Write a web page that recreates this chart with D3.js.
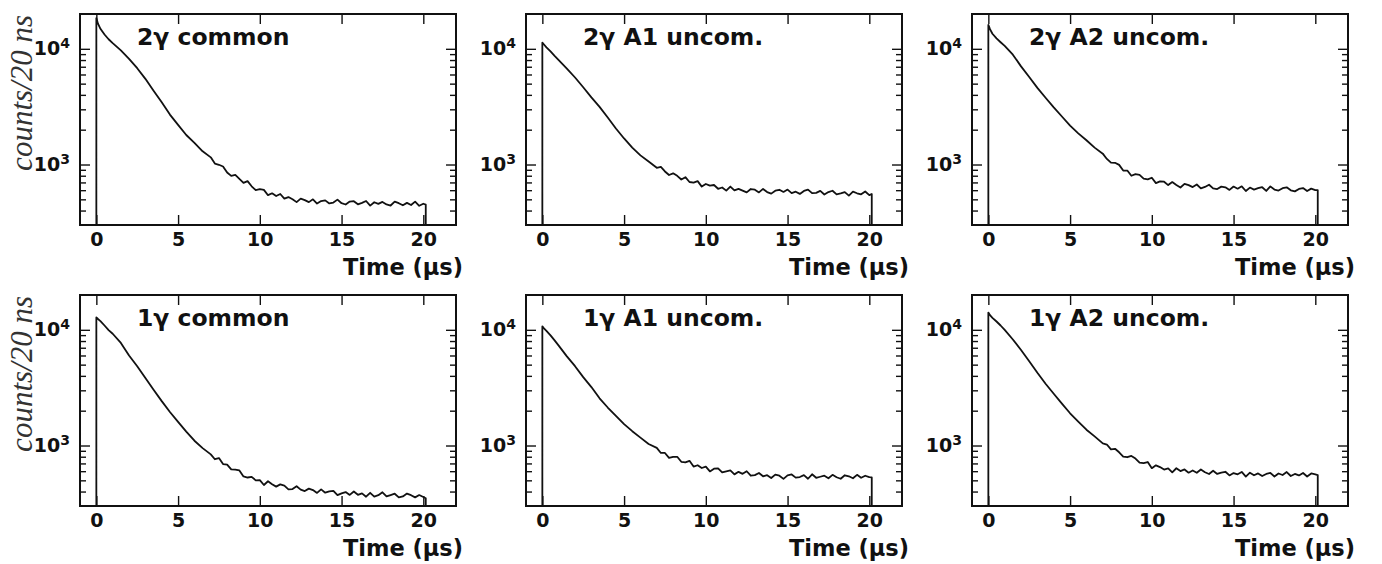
<!DOCTYPE html>
<html>
<head>
<meta charset="utf-8">
<script src="https://cdn.jsdelivr.net/npm/d3@7"></script>
<style>
  body { margin: 0; background: #fff; }
  .chart text { font-family: "DejaVu Sans", sans-serif; font-weight: bold; fill: #111; }
  .chart .ylab { font-family: "Liberation Serif", serif; font-style: italic; font-weight: normal; fill: #333; }
</style>
</head>
<body>
<div class="chart"></div>
<script>
//Time bins (μs)
var times = [0, 0.1, 0.25, 0.5, 0.75, 1, 1.5, 2, 2.5, 3, 3.5, 4, 4.5, 5, 5.5, 6, 6.5,
  7, 7.25, 7.5, 7.75, 8, 8.25, 8.5, 8.75, 9, 9.25, 9.5, 9.75, 10, 10.25, 10.5, 10.75,
  11, 11.25, 11.5, 11.75, 12, 12.25, 12.5, 12.75, 13, 13.25, 13.5, 13.75, 14, 14.25, 14.5, 14.75,
  15, 15.25, 15.5, 15.75, 16, 16.25, 16.5, 16.75, 17, 17.25, 17.5, 17.75, 18, 18.25, 18.5, 18.75,
  19, 19.25, 19.5, 19.75, 20, 20.15];

//Counts per 20 ns
var counts2gCommon = [18450, 16500, 14900, 13300, 12100, 11200, 9700, 8200, 6800, 5500, 4350, 3450, 2700, 2200, 1800, 1540, 1300,
  1153, 1019, 995, 962, 853, 797, 814, 750, 694, 719, 648, 600, 612, 603, 543, 564, 534, 556, 507, 523, 500, 473, 507, 492,
  473, 500, 460, 483, 490, 461, 469, 497, 463, 451, 478, 482, 453, 466, 484, 441, 472, 457, 475, 452, 442, 477, 463, 444,
  466, 447, 478, 440, 458, 450];
var counts2gA1 = [11300, 10900, 10300, 9500, 8700, 8000, 6750, 5650, 4650, 3800, 3150, 2550, 2050, 1680, 1400, 1200, 1060,
  936, 952, 871, 811, 839, 798, 742, 777, 706, 698, 718, 644, 679, 656, 665, 617, 633, 595, 645, 597, 616, 595, 574, 614,
  606, 574, 615, 578, 560, 594, 605, 579, 607, 566, 582, 557, 591, 607, 565, 569, 591, 550, 578, 593, 552, 562, 578, 538,
  582, 564, 552, 584, 544, 556];
var counts2gA2 = [16100, 14800, 13500, 12300, 11400, 10600, 8900, 7050, 5700, 4600, 3780, 3120, 2600, 2170, 1860, 1620, 1400,
  1241, 1117, 1037, 1035, 993, 888, 887, 800, 826, 814, 755, 743, 769, 691, 715, 710, 664, 705, 665, 633, 681, 663, 638, 672,
  623, 640, 669, 622, 614, 644, 635, 603, 645, 618, 648, 590, 632, 607, 624, 636, 591, 646, 608, 595, 624, 635, 598, 586,
  615, 626, 590, 619, 601, 600];
var counts1gCommon = [12800, 12400, 11900, 10900, 9950, 9250, 7700, 6000, 4850, 3830, 3040, 2420, 1950, 1600, 1320, 1100, 950,
  838, 761, 779, 691, 683, 621, 618, 609, 540, 529, 536, 500, 502, 456, 491, 463, 441, 461, 450, 418, 420, 445, 416, 404,
  424, 412, 389, 418, 391, 401, 406, 372, 386, 396, 374, 400, 375, 386, 361, 390, 362, 372, 394, 363, 373, 383, 356, 363,
  384, 372, 356, 373, 359, 350];
var counts1gA1 = [10700, 10300, 9800, 8950, 8100, 7300, 5900, 4850, 3900, 3200, 2560, 2130, 1800, 1530, 1330, 1170, 1030,
  953, 862, 862, 782, 798, 799, 723, 715, 737, 658, 675, 639, 657, 597, 630, 635, 586, 598, 610, 563, 592, 569, 599, 548,
  555, 579, 542, 554, 524, 560, 548, 515, 552, 562, 528, 534, 554, 516, 564, 526, 537, 548, 521, 558, 532, 516, 553, 542,
  521, 558, 526, 548, 532, 530];
var counts1gA2 = [14100, 13400, 12700, 11800, 10900, 10000, 8250, 6700, 5350, 4250, 3420, 2800, 2300, 1900, 1610, 1370, 1200,
  1044, 1020, 926, 937, 874, 803, 792, 813, 772, 711, 703, 720, 637, 674, 651, 620, 634, 586, 636, 601, 621, 582, 608, 581,
  620, 587, 567, 605, 568, 584, 593, 551, 578, 564, 591, 539, 582, 553, 574, 545, 568, 579, 540, 573, 556, 590, 545, 568,
  551, 579, 540, 573, 562, 555];

var panelTitles = ["2γ common", "2γ A1 uncom.", "2γ A2 uncom.", "1γ common", "1γ A1 uncom.", "1γ A2 uncom."];
var panelCounts = [counts2gCommon, counts2gA1, counts2gA2, counts1gCommon, counts1gA1, counts1gA2];

var xTicks = [0, 5, 10, 15, 20];
var yMajorTicks = [1000, 10000];
var yMinorTicks = [400, 500, 600, 700, 800, 900, 2000, 3000, 4000, 5000, 6000, 7000, 8000, 9000];
var xDomain = [-1, 22];
var yDomain = [300, 20000];

//Layout
var svgWidth = 1382;
var svgHeight = 564;
var colLeft = [80, 526, 972];
var rowTop = [14, 295];
var panelWidth = 376;
var panelHeight = 211;

var svg = d3.select(".chart")
    .append("svg")
    .attr("width", svgWidth)
    .attr("height", svgHeight);

var xScale = d3.scaleLinear().domain(xDomain).range([0, panelWidth]);
var yScale = d3.scaleLog().domain(yDomain).range([panelHeight, 0]);

var line = d3.line()
    .x(d => xScale(d.t))
    .y(d => yScale(d.v));

panelCounts.forEach(function(counts, i) {
    var col = i % 3, row = Math.floor(i / 3);
    var g = svg.append("g")
        .attr("transform", `translate(${colLeft[col]}, ${rowTop[row]})`);

    g.append("clipPath").attr("id", "clip" + i)
      .append("rect").attr("width", panelWidth).attr("height", panelHeight);

    //Histogram trace, closed down to the floor at both ends
    var pts = times.map((t, j) => ({t: t, v: counts[j]}));
    pts.unshift({t: times[0], v: yDomain[0]});
    pts.push({t: times[times.length - 1], v: yDomain[0]});

    g.append("path")
        .datum(pts)
        .attr("clip-path", `url(#clip${i})`)
        .attr("fill", "none")
        .attr("stroke", "#111")
        .attr("stroke-width", 1.8)
        .attr("stroke-linejoin", "round")
        .attr("d", line);

    //Axes, ticks pointing inwards
    var bottom = g.append("g")
        .attr("transform", `translate(0, ${panelHeight})`)
        .call(d3.axisBottom(xScale).tickValues(xTicks).tickSize(-10).tickPadding(8));
    bottom.selectAll("text").attr("font-size", 19);

    g.append("g")
        .call(d3.axisTop(xScale).tickValues(xTicks).tickSize(-10).tickFormat(""));

    var left = g.append("g")
        .call(d3.axisLeft(yScale).tickValues(yMajorTicks).tickSize(-10).tickPadding(10));
    left.selectAll(".tick text").each(function(d) {
        var el = d3.select(this).attr("font-size", 19).text(null);
        el.append("tspan").text("10");
        el.append("tspan").attr("dy", "-0.5em").attr("font-size", 14).text(Math.round(Math.log10(d)));
    });
    g.append("g")
        .call(d3.axisLeft(yScale).tickValues(yMinorTicks).tickSize(-6).tickFormat(""));

    g.append("g")
        .attr("transform", `translate(${panelWidth}, 0)`)
        .call(d3.axisRight(yScale).tickValues(yMajorTicks).tickSize(-10).tickFormat(""));
    g.append("g")
        .attr("transform", `translate(${panelWidth}, 0)`)
        .call(d3.axisRight(yScale).tickValues(yMinorTicks).tickSize(-6).tickFormat(""));

    g.selectAll(".domain").remove();
    g.selectAll(".tick line").attr("stroke", "#111").attr("stroke-width", 1.4);

    //Frame
    g.append("rect")
        .attr("width", panelWidth)
        .attr("height", panelHeight)
        .attr("fill", "none")
        .attr("stroke", "#111")
        .attr("stroke-width", 2);

    //Panel title
    g.append("text")
        .attr("x", 57)
        .attr("y", 31)
        .attr("font-size", 23.5)
        .text(panelTitles[i]);

    //x axis label
    g.append("text")
        .attr("x", panelWidth + 7)
        .attr("y", panelHeight + 50)
        .attr("text-anchor", "end")
        .attr("font-size", 22.5)
        .text("Time (μs)");

    //y axis label, first column only
    if (col === 0) {
        g.append("text")
            .attr("class", "ylab")
            .attr("transform", `translate(${32 - colLeft[0]}, 1) rotate(-90)`)
            .attr("text-anchor", "end")
            .attr("font-size", 31)
            .text("counts/20 ns");
    }
});
</script>
</body>
</html>
